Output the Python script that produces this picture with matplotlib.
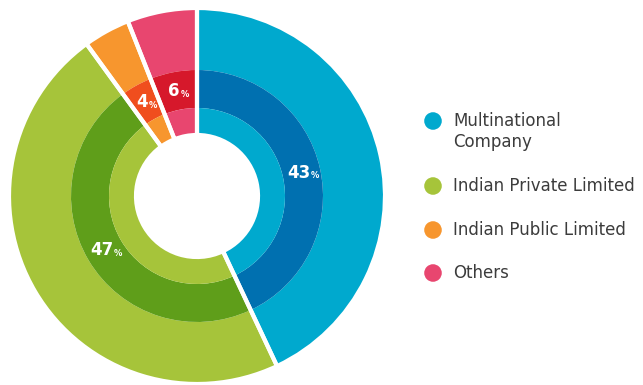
import numpy as np
import matplotlib.pyplot as plt

# Company type split (percent)
categories = ["Multinational\nCompany", "Indian Private Limited", "Indian Public Limited", "Others"]
shares = [43, 47, 4, 6]
outer_colors = ["#00a9ce", "#a6c43a", "#f7962e", "#e8466f"]
middle_colors = ["#0070b0", "#5f9e1a", "#f04e1e", "#d6182b"]

W, H = 643, 385
CENTER = (197, 189)
R_OUTER, R_MID, R_INNER, R_HOLE = 188, 126, 88, 61

fig = plt.figure(figsize=(W / 100, H / 100), dpi=100)
ax = fig.add_axes([0, 0, 1, 1])

common = dict(center=CENTER, startangle=90, counterclock=False)

ax.pie(shares, radius=R_OUTER, colors=outer_colors,
       wedgeprops=dict(width=R_OUTER - R_MID, linewidth=0), **common)
ax.pie(shares, radius=R_MID, colors=middle_colors,
       wedgeprops=dict(width=R_MID - R_INNER, linewidth=0), **common)
ax.pie(shares, radius=R_INNER, colors=outer_colors,
       wedgeprops=dict(width=R_INNER - R_HOLE, linewidth=0), **common)
# white separators between the slices, through all rings
ax.pie(shares, radius=R_OUTER, colors=["none"] * len(shares),
       wedgeprops=dict(width=R_OUTER - R_HOLE, edgecolor="white", linewidth=3), **common)

# percentage labels in the middle ring
start = 90.0
label_r = (R_MID + R_INNER) / 2
for v in shares:
    span = 360 * v / sum(shares)
    mid = np.deg2rad(start - span / 2)
    start -= span
    x = CENTER[0] + label_r * np.cos(mid)
    y = CENTER[1] + label_r * np.sin(mid)
    t = ax.text(x - 3, y, str(v), color="white", fontsize=12, fontweight="bold",
                ha="center", va="center")
    ax.annotate("%", xy=(1, 0), xycoords=t, xytext=(0.5, 1), textcoords="offset points",
                color="white", fontsize=6, fontweight="bold", ha="left", va="bottom")

# legend
legend_y = [H - 121, H - 186, H - 230, H - 273]
ax.scatter([433] * len(categories), legend_y, s=160, c=outer_colors, linewidths=0)
for name, y in zip(categories, legend_y):
    if "\n" in name:
        ax.text(453, y + 9, name, fontsize=12, color="#3c3c3c", ha="left", va="top",
                linespacing=1.2)
    else:
        ax.text(453, y, name, fontsize=12, color="#3c3c3c", ha="left", va="center")

ax.set_xlim(0, W)
ax.set_ylim(0, H)
ax.set_aspect("equal")
ax.axis("off")

fig.savefig("out.png", dpi=100)
